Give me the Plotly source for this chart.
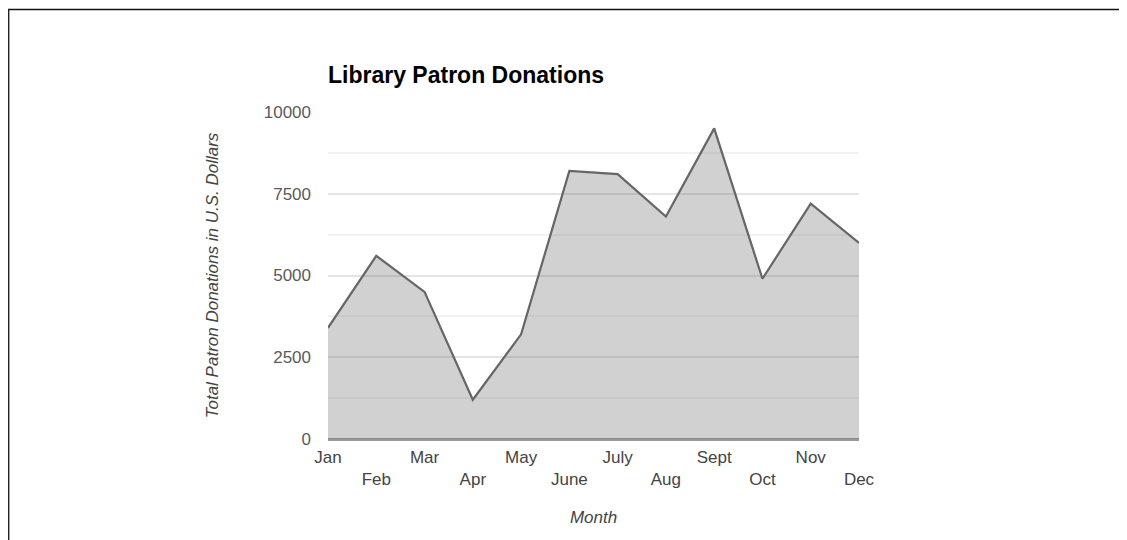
import plotly.graph_objects as go

months = ["Jan", "Feb", "Mar", "Apr", "May", "June", "July", "Aug", "Sept", "Oct", "Nov", "Dec"]
donations = [3400, 5600, 4500, 1200, 3200, 8200, 8100, 6800, 9500, 4900, 7200, 6000]
y_ticks = [0, 2500, 5000, 7500, 10000]
y_tick_text = ["0", "2500", "5000", "7500", "10000"]

# alternate tick labels on two rows
tick_text = [m if i % 2 == 0 else "<br>" + m for i, m in enumerate(months)]

# page body has an 8px margin; express target screen positions in figure coords
OFF = 8
W, H = 1127, 540
L = 328 - OFF
T = 112 - OFF
R = W - (859 - OFF)
B = H - (439 - OFF)
pw, ph = W - L - R, H - T - B

def px_x(px):
    return (px - OFF - L) / pw

def px_y(py):
    return (H - B - (py - OFF)) / ph

fig = go.Figure()
fig.add_trace(go.Scatter(
    x=months, y=donations, mode="lines",
    line=dict(color="#666666", width=2.2),
    fill="tozeroy", fillcolor="rgba(102,102,102,0.3)",
    hoverinfo="x+y",
))

font_family = "Arial, Liberation Sans, sans-serif"

fig.update_layout(
    width=W, height=H,
    margin=dict(l=L, r=R, t=T, b=B, pad=0),
    paper_bgcolor="white", plot_bgcolor="white",
    showlegend=False,
    font=dict(family=font_family, size=17, color="#444444"),
    title=dict(
        text="<b>Library Patron Donations</b>",
        x=(328 - OFF) / W, xanchor="left", xref="container",
        y=1 - (75 - OFF) / H, yanchor="middle", yref="container",
        font=dict(family=font_family, size=23, color="#000000"),
    ),
    xaxis=dict(
        type="category",
        range=[0, len(months) - 1],
        tickmode="array", tickvals=months, ticktext=tick_text,
        showgrid=False, zeroline=False, showline=False,
        ticks="", ticklabelstandoff=6,
        tickfont=dict(size=17, color="#444444"),
        title=dict(text="<i>Month</i>", standoff=23,
                   font=dict(size=17, color="#444444")),
        fixedrange=True,
    ),
    yaxis=dict(
        range=[0, 10000],
        tickmode="array", tickvals=y_ticks, ticktext=y_tick_text,
        showgrid=True, gridcolor="#e4e4e4", gridwidth=1.5,
        minor=dict(dtick=1250, showgrid=True, gridcolor="#f2f2f2", gridwidth=1.5),
        zeroline=True, zerolinecolor="#999999", zerolinewidth=3,
        showline=False, ticks="", ticklabelstandoff=16,
        tickfont=dict(size=17, color="#5a5a5a"),
        title=dict(text="<i>Total Patron Donations in U.S. Dollars</i>", standoff=40,
                   font=dict(size=17, color="#444444")),
        fixedrange=True,
    ),
    shapes=[
        dict(type="line", xref="paper", yref="paper",
             x0=px_x(8), x1=px_x(1140), y0=px_y(9.5), y1=px_y(9.5),
             line=dict(color="#111111", width=1.6)),
        dict(type="line", xref="paper", yref="paper",
             x0=px_x(8.5), x1=px_x(8.5), y0=px_y(9.5), y1=px_y(560),
             line=dict(color="#222222", width=1.8)),
    ],
)

fig.write_html("out.html")
